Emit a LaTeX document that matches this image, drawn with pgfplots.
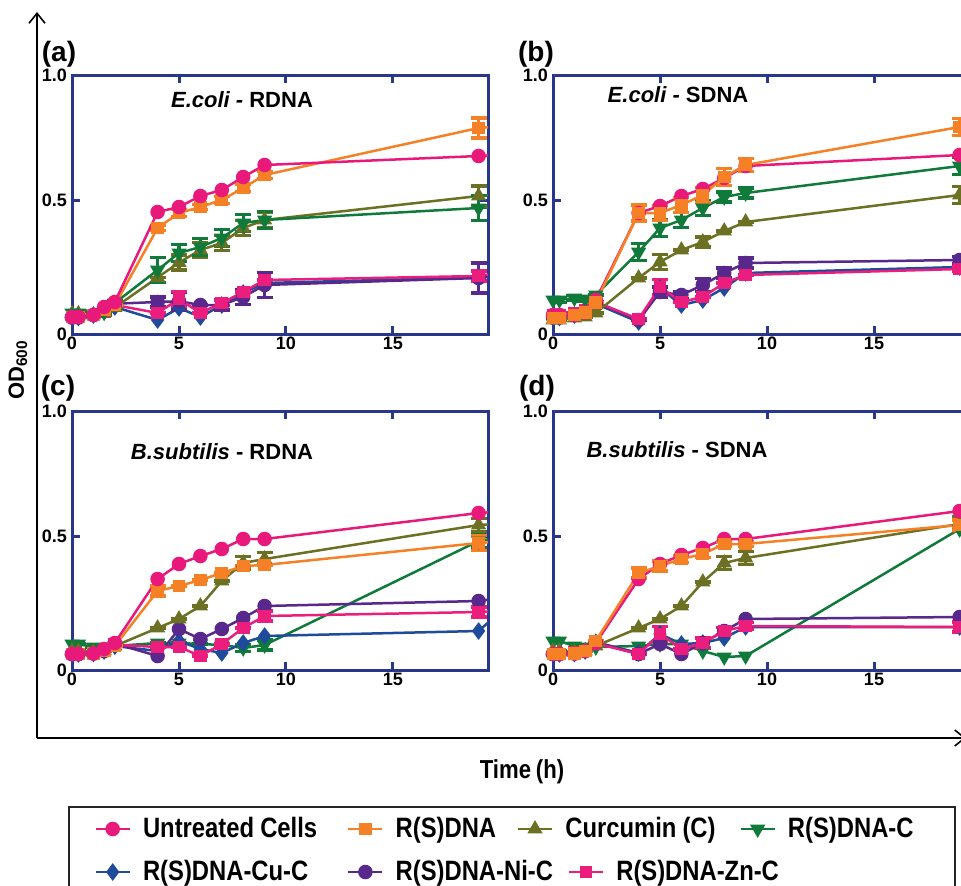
\documentclass[border=0pt]{standalone}
\usepackage{fontspec}
\setmainfont{Liberation Sans}
\newfontfamily\narrowfont[FakeStretch=0.85,WordSpace=0.8]{Liberation Sans}
\usepackage{pgfplots}
\usepackage{pgfplotstable}
\pgfplotsset{compat=1.18}
\usetikzlibrary{arrows.meta}

\definecolor{cU}{RGB}{232,25,122}
\definecolor{cR}{RGB}{245,128,37}
\definecolor{cC}{RGB}{107,112,35}
\definecolor{cG}{RGB}{16,122,58}
\definecolor{cCu}{RGB}{30,75,155}
\definecolor{cNi}{RGB}{88,40,140}
\definecolor{cZn}{RGB}{236,30,125}
\definecolor{navyframe}{RGB}{40,55,140}

% Panel (a): E.coli - RDNA
\pgfplotstableread{
t    u     ue  r     re    c     ce    g     ge    cu    ni    nie   zn    zne
0    0.032 0   0.032 0     0.045 0     0.048 0.010 0.030 0.030 0     0.032 0
0.3  0.032 0   0.032 0     0.045 0     0.048 0.010 0.030 0.030 0     0.032 0
1    0.040 0   0.040 0     0.040 0     0.045 0.010 0.040 0.040 0     0.040 0
1.5  0.072 0   0.060 0     0.050 0     0.050 0.010 0.060 0.060 0     0.055 0
2    0.092 0   0.080 0     0.070 0     0.088 0.010 0.072 0.085 0     0.080 0
4    0.452 0   0.388 0.010 0.190 0     0.220 0.050 0.020 0.092 0.020 0.048 0
5    0.472 0   0.448 0.015 0.250 0.030 0.288 0.035 0.068 0.095 0.035 0.104 0.030
6    0.516 0   0.472 0.010 0.300 0.030 0.312 0.035 0.032 0.080 0     0.048 0
7    0.540 0   0.500 0.015 0.328 0.030 0.348 0.035 0.080 0.080 0.020 0.088 0.010
8    0.592 0   0.548 0.015 0.388 0.030 0.408 0.035 0.128 0.112 0.030 0.132 0
9    0.640 0   0.600 0.015 0.420 0.030 0.420 0.035 0.168 0.160 0.050 0.180 0
19   0.676 0   0.788 0.040 0.516 0.040 0.468 0.050 0.190 0.188 0.060 0.196 0.020
}\tabA
\pgfplotstableread{
t   u     r     c     g     cu    ni    zn
19  0.676 0.788 0.516 0.468 0.190 0.188 0.196
24  0.700 0.820 0.560 0.490 0.240 0.240 0.260
}\tailA

% Panel (b): E.coli - SDNA
\pgfplotstableread{
t    u     r     re    c     ce    g     ge    cu    ni    nie   zn    zne
0    0.040 0.028 0     0.020 0     0.100 0.010 0.030 0.030 0     0.040 0
0.3  0.040 0.028 0     0.020 0     0.100 0.010 0.030 0.030 0     0.040 0
1    0.040 0.040 0     0.028 0     0.108 0.010 0.040 0.040 0     0.048 0
1.5  0.050 0.050 0     0.032 0     0.104 0.010 0.050 0.050 0     0.060 0
2    0.100 0.090 0     0.048 0     0.120 0     0.085 0.090 0     0.092 0
4    0.448 0.448 0.032 0.188 0     0.292 0.035 0.012 0.020 0     0.024 0
5    0.476 0.448 0.030 0.252 0.030 0.388 0.035 0.148 0.132 0.020 0.152 0.030
6    0.516 0.480 0.030 0.300 0     0.420 0.030 0.080 0.120 0.015 0.092 0
7    0.544 0.520 0.030 0.332 0.020 0.468 0.030 0.100 0.160 0.025 0.112 0
8    0.588 0.592 0.035 0.376 0     0.512 0.020 0.148 0.208 0.020 0.168 0
9    0.636 0.640 0.025 0.412 0     0.528 0.020 0.208 0.248 0.020 0.200 0
19   0.680 0.792 0.035 0.520 0.035 0.636 0.035 0.232 0.260 0.015 0.224 0.010
}\tabB

% Panel (c): B.subtilis - RDNA
\pgfplotstableread{
t    u     r     re    c     ce    g     ge    cu    ni    zn    zne
0    0.028 0.028 0     0.040 0     0.068 0     0.028 0.028 0.028 0
0.3  0.028 0.028 0     0.040 0     0.068 0     0.028 0.028 0.028 0
1    0.030 0.030 0     0.035 0     0.056 0     0.030 0.030 0.030 0
1.5  0.048 0.040 0     0.040 0     0.052 0     0.040 0.040 0.040 0
2    0.072 0.060 0     0.060 0     0.060 0     0.060 0.070 0.065 0
4    0.328 0.280 0.020 0.132 0     0.072 0     0.040 0.020 0.056 0
5    0.388 0.300 0     0.168 0     0.072 0     0.080 0.128 0.056 0
6    0.420 0.324 0     0.220 0     0.068 0     0.048 0.088 0.020 0
7    0.448 0.352 0     0.320 0     0.064 0     0.032 0.128 0.068 0
8    0.488 0.380 0     0.392 0.025 0.052 0.015 0.072 0.172 0.132 0
9    0.488 0.384 0     0.408 0.025 0.064 0.020 0.100 0.220 0.180 0.020
19   0.592 0.472 0.030 0.544 0.025 0.480 0.025 0.120 0.240 0.196 0.020
}\tabC
\pgfplotstableread{
t   u     r     c     g     cu    ni    zn
19  0.592 0.472 0.544 0.480 0.120 0.240 0.196
24  0.620 0.500 0.570 0.550 0.500 0.300 0.220
}\tailC

% Panel (d): B.subtilis - SDNA
\pgfplotstableread{
t    u     r     re    c     ce    g     cu    ni    zn    zne
0    0.028 0.028 0     0.040 0     0.080 0.028 0.028 0.028 0
0.3  0.028 0.028 0     0.040 0     0.080 0.028 0.028 0.028 0
1    0.030 0.030 0     0.035 0     0.060 0.030 0.030 0.035 0
1.5  0.040 0.040 0     0.040 0     0.056 0.040 0.040 0.040 0
2    0.072 0.080 0     0.060 0     0.056 0.075 0.075 0.070 0
4    0.328 0.352 0.020 0.132 0     0.060 0.032 0.028 0.028 0
5    0.388 0.380 0.020 0.168 0     0.068 0.108 0.068 0.108 0.030
6    0.424 0.408 0.015 0.220 0     0.068 0.068 0.028 0.048 0
7    0.452 0.428 0.015 0.316 0     0.040 0.072 0.072 0.072 0.020
8    0.488 0.468 0.010 0.392 0.025 0.016 0.092 0.120 0.120 0.015
9    0.488 0.468 0.010 0.412 0.025 0.020 0.136 0.168 0.140 0.015
19   0.600 0.544 0.020 0.548 0.030 0.528 0.136 0.176 0.136 0.020
}\tabD

\pgfplotsset{
  panel/.style={
    scale only axis, width=208pt, height=129.5pt,
    xmin=0, xmax=19.44, ymin=-0.036, ymax=1.0,
    axis line style={navyframe, line width=1.5pt},
    xtick={0,5,10,15}, xticklabels={0,5,10,15},
    ytick={-0.036,0.5,1.0}, yticklabels={0,0.5,1.0},
    tick align=inside, major tick length=4pt,
    tick style={navyframe, line width=1.5pt},
    ticklabel style={font=\bfseries\fontsize{9}{9}\selectfont, text=black},
    xticklabel style={yshift=2pt},
    yticklabel style={xshift=1pt},
    every axis plot/.append style={line width=1.25pt},
  },
  errs/.style={error bars/.cd, y dir=both, y explicit,
    error bar style={line width=1.6pt, solid},
    error mark options={rotate=90, mark size=4pt, line width=1.6pt, solid}},
  sU/.style={color=cU, mark=*, mark size=3pt},
  sR/.style={color=cR, mark=square*, mark size=2.6pt},
  sC/.style={color=cC, mark=triangle*, mark size=3.2pt},
  sG/.style={color=cG, mark=triangle*, mark size=3.2pt, mark options={rotate=180}},
  sCu/.style={color=cCu, mark=diamond*, mark size=3.4pt},
  sNi/.style={color=cNi, mark=*, mark size=3pt},
  sZn/.style={color=cZn, mark=square*, mark size=2.6pt},
  tail/.style={line width=1.25pt, no marks, forget plot},
}

\begin{document}
\begin{tikzpicture}[x=0.5pt, y=0.5pt]

% outer axes
\draw[line width=0.8pt, -{Straight Barb[length=5pt, width=8pt]}] (37,147) -- (37,873);
\draw[line width=0.8pt, -{Straight Barb[length=5pt, width=8pt]}] (37,147) -- (966,147);

% ---------- panel (a)
\begin{axis}[panel, at={(36pt,275.5pt)}, anchor=south west]
\addplot[tail, cR] table[x=t, y=r] {\tailA};
\addplot[tail, cU] table[x=t, y=u] {\tailA};
\addplot[tail, cC] table[x=t, y=c] {\tailA};
\addplot[tail, cG] table[x=t, y=g] {\tailA};
\addplot[tail, cCu] table[x=t, y=cu] {\tailA};
\addplot[tail, cNi] table[x=t, y=ni] {\tailA};
\addplot[tail, cZn] table[x=t, y=zn] {\tailA};
\addplot[sCu] table[x=t, y=cu] {\tabA};
\addplot[sNi, errs] table[x=t, y=ni, y error=nie] {\tabA};
\addplot[sZn, errs] table[x=t, y=zn, y error=zne] {\tabA};
\addplot[sC, errs] table[x=t, y=c, y error=ce] {\tabA};
\addplot[sG, errs] table[x=t, y=g, y error=ge] {\tabA};
\addplot[sR, errs] table[x=t, y=r, y error=re] {\tabA};
\addplot[sU] table[x=t, y=u] {\tabA};
\end{axis}

% ---------- panel (b)
\begin{axis}[panel, at={(276.5pt,275.5pt)}, anchor=south west]
\addplot[sCu] table[x=t, y=cu] {\tabB};
\addplot[sNi, errs] table[x=t, y=ni, y error=nie] {\tabB};
\addplot[sZn, errs] table[x=t, y=zn, y error=zne] {\tabB};
\addplot[sC, errs] table[x=t, y=c, y error=ce] {\tabB};
\addplot[sG, errs] table[x=t, y=g, y error=ge] {\tabB};
\addplot[sU] table[x=t, y=u] {\tabB};
\addplot[sR, errs] table[x=t, y=r, y error=re] {\tabB};
\end{axis}

% ---------- panel (c)
\begin{axis}[panel, at={(36pt,107.5pt)}, anchor=south west]
\addplot[tail, cR] table[x=t, y=r] {\tailC};
\addplot[tail, cU] table[x=t, y=u] {\tailC};
\addplot[tail, cC] table[x=t, y=c] {\tailC};
\addplot[tail, cG] table[x=t, y=g] {\tailC};
\addplot[tail, cCu] table[x=t, y=cu] {\tailC};
\addplot[tail, cNi] table[x=t, y=ni] {\tailC};
\addplot[tail, cZn] table[x=t, y=zn] {\tailC};
\addplot[sG, errs] table[x=t, y=g, y error=ge] {\tabC};
\addplot[sCu] table[x=t, y=cu] {\tabC};
\addplot[sNi] table[x=t, y=ni] {\tabC};
\addplot[sZn, errs] table[x=t, y=zn, y error=zne] {\tabC};
\addplot[sC, errs] table[x=t, y=c, y error=ce] {\tabC};
\addplot[sR, errs] table[x=t, y=r, y error=re] {\tabC};
\addplot[sU] table[x=t, y=u] {\tabC};
\end{axis}

% ---------- panel (d)
\begin{axis}[panel, at={(276.5pt,107.5pt)}, anchor=south west]
\addplot[sG] table[x=t, y=g] {\tabD};
\addplot[sCu] table[x=t, y=cu] {\tabD};
\addplot[sNi] table[x=t, y=ni] {\tabD};
\addplot[sZn, errs] table[x=t, y=zn, y error=zne] {\tabD};
\addplot[sC, errs] table[x=t, y=c, y error=ce] {\tabD};
\addplot[sU] table[x=t, y=u] {\tabD};
\addplot[sR, errs] table[x=t, y=r, y error=re] {\tabD};
\end{axis}

% panel labels and titles
\node[font=\bfseries\fontsize{14}{14}\selectfont] at (59,831) {(a)};
\node[font=\bfseries\fontsize{14}{14}\selectfont] at (536,831) {(b)};
\node[font=\bfseries\fontsize{14}{14}\selectfont] at (58,497) {(c)};
\node[font=\bfseries\fontsize{14}{14}\selectfont] at (537,497) {(d)};
\node[font=\bfseries\fontsize{11}{11}\selectfont] at (242,785.5) {\textit{E.coli -} RDNA};
\node[font=\bfseries\fontsize{11}{11}\selectfont] at (678,790) {\textit{E.coli -} SDNA};
\node[font=\bfseries\fontsize{11}{11}\selectfont] at (222,433) {\textit{B.subtilis} - RDNA};
\node[font=\bfseries\fontsize{11}{11}\selectfont] at (677,435) {\textit{B.subtilis} - SDNA};

% axis titles
\node[rotate=90, font=\bfseries\fontsize{11}{11}\selectfont] at (18,515) {OD\textsubscript{600}};
\node[font=\narrowfont\bfseries\fontsize{13}{13}\selectfont] at (522,113) {Time (h)};

% legend box
\draw[line width=0.8pt, black!85] (69,78) rectangle (955,-20);

% legend row 1
\begin{axis}[hide axis, scale only axis, width=10pt, height=10pt,
  at={(47pt,28pt)}, anchor=south west, xmin=0, xmax=1, ymin=0, ymax=1,
  legend columns=4,
  legend style={at={(0,0)}, anchor=west, draw=none, fill=none, inner sep=0pt,
    font=\narrowfont\bfseries\fontsize{14}{14}\selectfont,
    /tikz/column 2/.style={nodes={text width=104pt}},
    /tikz/column 4/.style={nodes={text width=62.5pt}},
    /tikz/column 6/.style={nodes={text width=89pt}}},
  legend cell align=left,
  every axis plot/.append style={line width=1.25pt}]
\addlegendimage{sU}
\addlegendentry{\hspace*{4pt}Untreated\hspace{0.22em}Cells}
\addlegendimage{sR}
\addlegendentry{\hspace*{4pt}R(S)DNA}
\addlegendimage{sC}
\addlegendentry{\hspace*{4pt}Curcumin\hspace{0.22em}(C)}
\addlegendimage{sG}
\addlegendentry{\hspace*{4pt}R(S)DNA-C}
\end{axis}

% legend row 2
\begin{axis}[hide axis, scale only axis, width=10pt, height=10pt,
  at={(47pt,6.5pt)}, anchor=south west, xmin=0, xmax=1, ymin=0, ymax=1,
  legend columns=3,
  legend style={at={(0,0)}, anchor=west, draw=none, fill=none, inner sep=0pt,
    font=\narrowfont\bfseries\fontsize{14}{14}\selectfont,
    /tikz/column 2/.style={nodes={text width=104pt}},
    /tikz/column 4/.style={nodes={text width=88pt}}},
  legend cell align=left,
  every axis plot/.append style={line width=1.25pt}]
\addlegendimage{sCu}
\addlegendentry{\hspace*{4pt}R(S)DNA-Cu-C}
\addlegendimage{sNi}
\addlegendentry{\hspace*{4pt}R(S)DNA-Ni-C}
\addlegendimage{sZn}
\addlegendentry{\hspace*{4pt}R(S)DNA-Zn-C}
\end{axis}

\pgfresetboundingbox
\useasboundingbox (0,0) rectangle (961,885);
\end{tikzpicture}
\end{document}
